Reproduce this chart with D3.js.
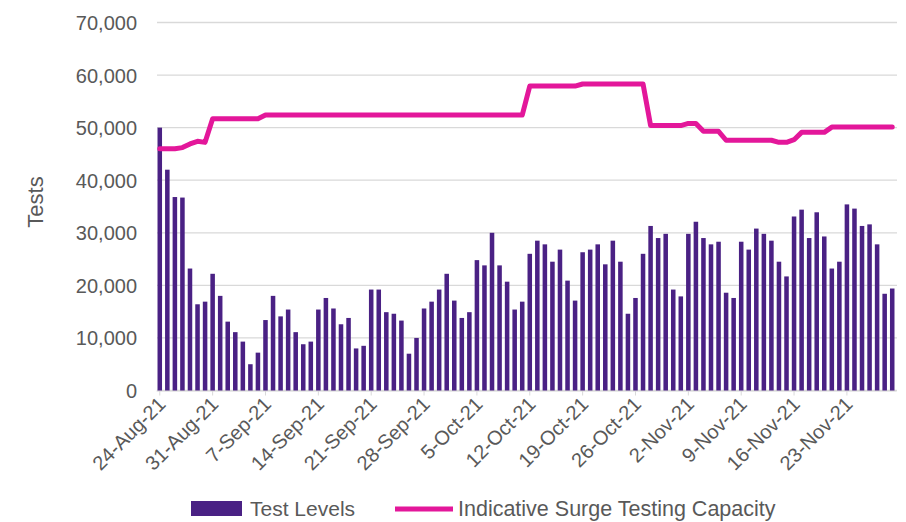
<!DOCTYPE html>
<html><head><meta charset="utf-8">
<script src="https://cdn.jsdelivr.net/npm/d3@7"></script>
<style>
html,body{margin:0;padding:0;background:#fff;}
svg{display:block;font-family:"Liberation Sans",Arial,sans-serif;}
</style></head>
<body><svg id="c" width="906" height="522"></svg>
<script>
const dates = [
"24-Aug-21","25-Aug-21","26-Aug-21","27-Aug-21","28-Aug-21","29-Aug-21","30-Aug-21",
"31-Aug-21","1-Sep-21","2-Sep-21","3-Sep-21","4-Sep-21","5-Sep-21","6-Sep-21",
"7-Sep-21","8-Sep-21","9-Sep-21","10-Sep-21","11-Sep-21","12-Sep-21","13-Sep-21",
"14-Sep-21","15-Sep-21","16-Sep-21","17-Sep-21","18-Sep-21","19-Sep-21","20-Sep-21",
"21-Sep-21","22-Sep-21","23-Sep-21","24-Sep-21","25-Sep-21","26-Sep-21","27-Sep-21",
"28-Sep-21","29-Sep-21","30-Sep-21","1-Oct-21","2-Oct-21","3-Oct-21","4-Oct-21",
"5-Oct-21","6-Oct-21","7-Oct-21","8-Oct-21","9-Oct-21","10-Oct-21","11-Oct-21",
"12-Oct-21","13-Oct-21","14-Oct-21","15-Oct-21","16-Oct-21","17-Oct-21","18-Oct-21",
"19-Oct-21","20-Oct-21","21-Oct-21","22-Oct-21","23-Oct-21","24-Oct-21","25-Oct-21",
"26-Oct-21","27-Oct-21","28-Oct-21","29-Oct-21","30-Oct-21","31-Oct-21","1-Nov-21",
"2-Nov-21","3-Nov-21","4-Nov-21","5-Nov-21","6-Nov-21","7-Nov-21","8-Nov-21",
"9-Nov-21","10-Nov-21","11-Nov-21","12-Nov-21","13-Nov-21","14-Nov-21","15-Nov-21",
"16-Nov-21","17-Nov-21","18-Nov-21","19-Nov-21","20-Nov-21","21-Nov-21","22-Nov-21",
"23-Nov-21","24-Nov-21","25-Nov-21","26-Nov-21","27-Nov-21","28-Nov-21","29-Nov-21"
];
const testLevels = [
50000,42000,36800,36700,23200,16400,16900,22200,18000,13100,
11100,9300,5000,7200,13400,18000,14100,15400,11100,8800,
9300,15400,17600,15600,12600,13800,8000,8500,19200,19200,
14900,14600,13300,7000,10000,15600,16900,19200,22200,17100,
13800,14900,24800,23800,30000,23800,20700,15400,16900,26000,
28500,27800,24500,26800,20900,17100,26300,26800,27800,24000,
28500,24500,14600,17600,26000,31300,29000,29800,19200,17900,
29800,32100,29000,27800,28300,18600,17600,28300,26800,30800,
29800,28500,24500,21700,33100,34400,29000,33900,29300,23200,
24500,35400,34600,31300,31600,27800,18400,19400
];
const surgeCapacity = [
46000,46000,46000,46200,46900,47400,47200,
51700,51700,51700,51700,51700,51700,51700,
52400,52400,52400,52400,52400,52400,52400,
52400,52400,52400,52400,52400,52400,52400,
52400,52400,52400,52400,52400,52400,52400,
52400,52400,52400,52400,52400,52400,52400,
52400,52400,52400,52400,52400,52400,52400,
57900,57900,57900,57900,57900,57900,57900,
58300,58300,58300,58300,58300,58300,58300,58300,58300,
50400,50400,50400,50400,50400,
50800,50800,
49300,49300,49300,
47600,47600,47600,47600,47600,47600,47600,
47200,47200,47700,
49100,49100,49100,49100,
50100,50100,50100,50100,50100,50100,50100,50100,50100
];
const tickLabels = ["24-Aug-21","31-Aug-21","7-Sep-21","14-Sep-21","21-Sep-21","28-Sep-21",
"5-Oct-21","12-Oct-21","19-Oct-21","26-Oct-21","2-Nov-21","9-Nov-21","16-Nov-21","23-Nov-21"];
const yTicks = [0,10000,20000,30000,40000,50000,60000,70000];
const seriesNames = ["Test Levels","Indicative Surge Testing Capacity"];

const svg = d3.select("#c");
const barColor = "#4a2184", lineColor = "#e3179a", textColor = "#595959";

const x = d3.scaleBand().domain(dates).range([156, 896]).paddingInner(0.4).paddingOuter(0.2);
const y = d3.scaleLinear().domain([0, 70000]).range([390.5, 22.5]);

// gridlines
svg.append("g").selectAll("line").data(yTicks).join("line")
  .attr("x1", 157).attr("x2", 897)
  .attr("y1", d => y(d)).attr("y2", d => y(d))
  .attr("stroke", "#d9d9d9").attr("stroke-width", 1.3);

// y axis labels
const yAxis = d3.axisLeft(y).tickValues(yTicks).tickFormat(d3.format(",")).tickSize(0).tickPadding(0);
const gy = svg.append("g").attr("transform", "translate(137,0)").call(yAxis);
gy.select(".domain").remove();
gy.selectAll("text").attr("fill", textColor).style("font-size", "20px").attr("dy", "0.35em");

// x axis
const xAxis = d3.axisBottom(x).tickValues(tickLabels).tickSize(5).tickSizeOuter(0);
const gx = svg.append("g").attr("transform", `translate(0,${y(0)})`).call(xAxis);
gx.select(".domain").attr("stroke", "#d9d9d9");
gx.selectAll(".tick line").attr("stroke", "#d9d9d9");
gx.selectAll("text").attr("fill", textColor).style("font-size", "20px")
  .attr("text-anchor", "end").attr("dy", null).attr("y", 0)
  .attr("transform", "translate(7,15) rotate(-45)");

// bars
svg.append("g").selectAll("rect").data(dates).join("rect")
  .attr("x", d => x(d)).attr("width", x.bandwidth())
  .attr("y", (d, i) => y(testLevels[i]))
  .attr("height", (d, i) => y(0) - y(testLevels[i]))
  .attr("fill", barColor);

// line
const line = d3.line().x((d, i) => x(dates[i]) + x.bandwidth() / 2).y(d => y(d));
svg.append("path").datum(surgeCapacity).attr("d", line)
  .attr("fill", "none").attr("stroke", lineColor).attr("stroke-width", 5)
  .attr("stroke-linejoin", "round").attr("stroke-linecap", "round");

// y title
svg.append("text").attr("transform", "translate(43,202) rotate(-90)")
  .attr("text-anchor", "middle").attr("fill", textColor).style("font-size", "22px").text("Tests");

// legend
const lg = svg.append("g");
lg.append("rect").attr("x", 191).attr("y", 501).attr("width", 51).attr("height", 15).attr("fill", barColor);
lg.append("text").attr("x", 250).attr("y", 516).attr("fill", textColor).style("font-size", "21px").text(seriesNames[0]);
lg.append("line").attr("x1", 395).attr("x2", 453).attr("y1", 509).attr("y2", 509)
  .attr("stroke", lineColor).attr("stroke-width", 5);
lg.append("text").attr("x", 458).attr("y", 516).attr("fill", textColor).style("font-size", "21.5px").text(seriesNames[1]);
</script></body></html>
